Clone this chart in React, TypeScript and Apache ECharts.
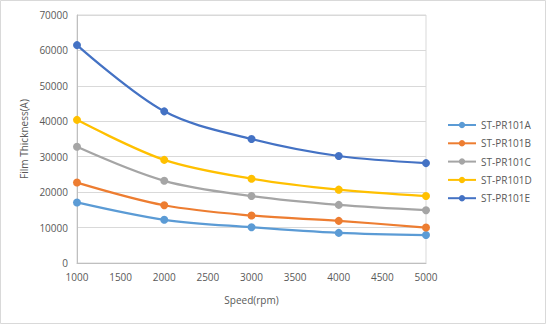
import React, { useEffect, useRef } from "react";
import * as echarts from "echarts";

const speeds = [1000, 2000, 3000, 4000, 5000];
const seriesNames = ["ST-PR101A", "ST-PR101B", "ST-PR101C", "ST-PR101D", "ST-PR101E"];
const prA = [17100, 12200, 10100, 8500, 7900];
const prB = [22700, 16300, 13400, 11900, 10000];
const prC = [32800, 23200, 18900, 16400, 14900];
const prD = [40400, 29100, 23800, 20700, 18900];
const prE = [61500, 42800, 35000, 30200, 28200];
const seriesValues = [prA, prB, prC, prD, prE];
const colors = ["#5b9bd5", "#ed7d31", "#a5a5a5", "#ffc000", "#4472c4"];

export default function App() {
  const ref = useRef<HTMLDivElement>(null);
  useEffect(() => {
    if (!ref.current) return;
    const chart = echarts.init(ref.current, null, { renderer: "svg" });
    const font = "'Open Sans', sans-serif";
    chart.setOption({
      animation: false,
      textStyle: { fontFamily: font },
      graphic: [
        {
          type: "rect",
          shape: { x: 0.5, y: 0.5, width: 545, height: 323 },
          style: { fill: "none", stroke: "#d9d9d9", lineWidth: 1 },
          silent: true,
        },
      ],
      grid: {
        left: 77,
        right: 120,
        top: 15,
        bottom: 61,
        show: true,
        borderColor: "#d9d9d9",
        borderWidth: 1,
      },
      legend: {
        orient: "vertical",
        left: 447,
        top: 120,
        padding: 0,
        itemWidth: 28,
        itemHeight: 8,
        itemGap: 8.3,
        textStyle: { color: "#595959", fontSize: 10, fontFamily: font },
        data: seriesNames,
      },
      xAxis: {
        type: "value",
        min: 1000,
        max: 5000,
        interval: 500,
        name: "Speed(rpm)",
        nameLocation: "middle",
        nameGap: 32,
        nameTextStyle: { color: "#595959", fontSize: 10 },
        axisLine: { show: true, lineStyle: { color: "#bfbfbf" } },
        axisTick: { show: false },
        axisLabel: { color: "#595959", fontSize: 10, margin: 9, formatter: (v: number) => String(v) },
        splitLine: { show: false },
      },
      yAxis: {
        type: "value",
        min: 0,
        max: 70000,
        interval: 10000,
        name: "Film Thickness(A)",
        nameLocation: "middle",
        nameGap: 48,
        nameTextStyle: { color: "#595959", fontSize: 10 },
        axisLine: { show: true, lineStyle: { color: "#bfbfbf" } },
        axisTick: { show: false },
        axisLabel: { color: "#595959", fontSize: 10, margin: 9, formatter: (v: number) => String(v) },
        splitLine: { show: true, lineStyle: { color: "#d9d9d9" } },
      },
      series: seriesNames.map((name, i) => ({
        name,
        type: "line",
        smooth: 0.33,
        symbol: "circle",
        symbolSize: 8,
        color: colors[i],
        lineStyle: { width: 2.25, color: colors[i] },
        itemStyle: { color: colors[i] },
        data: speeds.map((s, j) => [s, seriesValues[i][j]]),
      })),
    });
    return () => chart.dispose();
  }, []);
  return (
    <div
      ref={ref}
      style={{
        position: "fixed",
        left: 0,
        top: 0,
        width: 546,
        height: 324,
        background: "#fff",
      }}
    />
  );
}
